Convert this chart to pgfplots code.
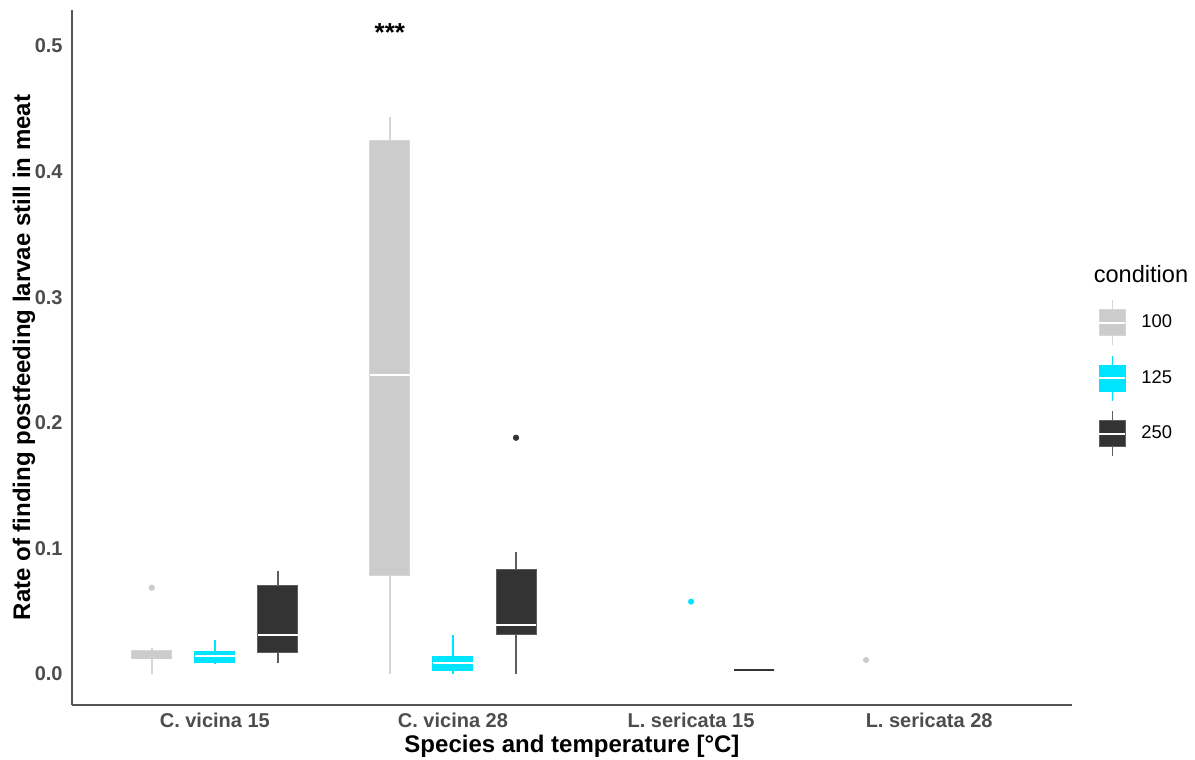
\documentclass[border=0pt]{standalone}
\usepackage{pgfplots}
\pgfplotsset{compat=1.18}
\usepgfplotslibrary{statistics}
\usepackage{fontspec}
\setmainfont{Liberation Sans}
\definecolor{greyfill}{HTML}{CCCCCC}
\definecolor{greyline}{HTML}{D6D6D6}
\definecolor{cyanfill}{HTML}{00E5FF}
\definecolor{darkfill}{HTML}{333333}
\definecolor{darkline}{HTML}{5E5E5E}
\definecolor{tickgray}{HTML}{4D4D4D}
\definecolor{axisgray}{HTML}{555555}
\pgfplotsset{
  bpgrey/.style={draw=greyline, fill=greyfill, line width=0.5pt, mark=*, mark size=1.3pt,
    mark options={draw=greyfill, fill=greyfill, solid},
    boxplot/every median/.style={draw=white, line width=1pt},
    boxplot/every whisker/.style={draw=greyline, line width=0.8pt}},
  bpcyan/.style={draw=cyanfill, fill=cyanfill, line width=0.5pt, mark=*, mark size=1.3pt,
    mark options={draw=cyanfill, fill=cyanfill, solid},
    boxplot/every median/.style={draw=white, line width=1pt},
    boxplot/every whisker/.style={draw=cyanfill, line width=0.8pt}},
  bpdark/.style={draw=darkline, fill=darkfill, line width=0.5pt, mark=*, mark size=1.3pt,
    mark options={draw=darkfill, fill=darkfill, solid},
    boxplot/every median/.style={draw=white, line width=1pt},
    boxplot/every whisker/.style={draw=darkline, line width=0.8pt}},
}
\begin{document}
\begin{tikzpicture}
\begin{axis}[
  at={(36pt,27.5pt)}, anchor=south west,
  scale only axis, width=500pt, height=347.5pt,
  xmin=0.4, xmax=4.6, ymin=-0.0247, ymax=0.5287,
  boxplot/draw direction=y,
  axis x line*=bottom, axis y line*=left,
  axis line style={-, draw=axisgray, line width=0.9pt},
  major tick length=0pt, tick style={draw=none},
  xtick={1,2,3,4},
  xticklabels={C. vicina 15, C. vicina 28, L. sericata 15, L. sericata 28},
  ytick={0,0.1,0.2,0.3,0.4,0.5},
  /pgf/number format/assume math mode=true,
  yticklabel style={/pgf/number format/fixed, /pgf/number format/fixed zerofill, /pgf/number format/precision=1,
    font=\bfseries\fontsize{10}{12}\selectfont, text=tickgray, anchor=east, inner sep=0pt, xshift=-4.5pt},
  xticklabel style={font=\bfseries\fontsize{10}{12}\selectfont, text=tickgray, anchor=center, inner sep=0pt, yshift=-7.5pt},
  xlabel={Species and temperature [°C]},
  ylabel={Rate of finding postfeeding larvae still in meat},
  xlabel style={font=\bfseries\fontsize{12}{14}\selectfont, at={(axis description cs:0.5,-0.0595)}, anchor=center},
  ylabel style={font=\bfseries\fontsize{12}{14}\selectfont, at={(axis description cs:-0.048,0.5)}, anchor=center},
  legend style={at={(rel axis cs:1.026,0.5842)}, anchor=north west, draw=none, fill=none,
    inner sep=0pt, row sep=4.5pt, column sep=7.5pt, nodes={inner sep=0pt},
    font=\fontsize{9.2}{11}\selectfont},
  legend cell align=left,
  clip=false,
]
\addlegendimage{legend image code/.code={
  \draw[greyline, line width=0.8pt] (6.5pt,-11.25pt)--(6.5pt,11.25pt);
  \draw[fill=greyfill, draw=greyline, line width=0.5pt] (0pt,-6.5pt) rectangle (13pt,6.5pt);
  \draw[white, line width=1pt] (0pt,0pt)--(13pt,0pt);}}
\addlegendentry{100}
\addlegendimage{legend image code/.code={
  \draw[cyanfill, line width=0.8pt] (6.5pt,-11.25pt)--(6.5pt,11.25pt);
  \draw[fill=cyanfill, draw=cyanfill, line width=0.5pt] (0pt,-6.5pt) rectangle (13pt,6.5pt);
  \draw[white, line width=1pt] (0pt,0pt)--(13pt,0pt);}}
\addlegendentry{125}
\addlegendimage{legend image code/.code={
  \draw[darkline, line width=0.8pt] (6.5pt,-11.25pt)--(6.5pt,11.25pt);
  \draw[fill=darkfill, draw=darkline, line width=0.5pt] (0pt,-6.5pt) rectangle (13pt,6.5pt);
  \draw[white, line width=1pt] (0pt,0pt)--(13pt,0pt);}}
\addlegendentry{250}

% C. vicina 15
\addplot[bpgrey, boxplot prepared={draw position=0.735, box extend=0.168, whisker extend=0,
  lower whisker=0, lower quartile=0.0125, median=0.0125, upper quartile=0.0183, upper whisker=0.0205},
  boxplot/every median/.style={draw=greyfill, line width=0.5pt}]
  coordinates {(0,0.0687)};
\addplot[bpcyan, boxplot prepared={draw position=1, box extend=0.168, whisker extend=0,
  lower whisker=0.0085, lower quartile=0.0090, median=0.0143, upper quartile=0.0178, upper whisker=0.0271}]
  coordinates {};
\addplot[bpdark, boxplot prepared={draw position=1.265, box extend=0.168, whisker extend=0,
  lower whisker=0.0085, lower quartile=0.0170, median=0.0311, upper quartile=0.0701, upper whisker=0.0820}]
  coordinates {};
% C. vicina 28
\addplot[bpgrey, boxplot prepared={draw position=1.735, box extend=0.168, whisker extend=0,
  lower whisker=0, lower quartile=0.0788, median=0.2381, upper quartile=0.4246, upper whisker=0.4437}]
  coordinates {};
\addplot[bpcyan, boxplot prepared={draw position=2, box extend=0.168, whisker extend=0,
  lower whisker=0, lower quartile=0.0026, median=0.0090, upper quartile=0.0143, upper whisker=0.0311}]
  coordinates {};
\addplot[bpdark, boxplot prepared={draw position=2.265, box extend=0.168, whisker extend=0,
  lower whisker=0, lower quartile=0.0316, median=0.0390, upper quartile=0.0834, upper whisker=0.0974}]
  coordinates {(0,0.1881)};
% L. sericata 15
\addplot[only marks, mark=*, mark size=1.3pt, draw=cyanfill, fill=cyanfill]
  coordinates {(3,0.0576)};
\addplot[bpdark, boxplot prepared={draw position=3.265, box extend=0.168, whisker extend=0,
  lower whisker=0.0029, lower quartile=0.0029, median=0.0029, upper quartile=0.0029, upper whisker=0.0040},
  line width=1pt, boxplot/every median/.style={draw=darkfill, line width=1pt}]
  coordinates {};
% L. sericata 28
\addplot[only marks, mark=*, mark size=1.3pt, draw=greyfill, fill=greyfill]
  coordinates {(3.735,0.0111)};

\node[font=\bfseries\fontsize{13}{15}\selectfont, anchor=base, inner sep=0pt] at (axis cs:1.735,0.504) {***};
\node[font=\fontsize{11.8}{14}\selectfont, anchor=center, inner sep=0pt] at (rel axis cs:1.069,0.620) {condition};
\end{axis}
\pgfresetboundingbox
\path[use as bounding box] (0,0) rectangle (597.5pt,380pt);
\end{tikzpicture}
\end{document}
